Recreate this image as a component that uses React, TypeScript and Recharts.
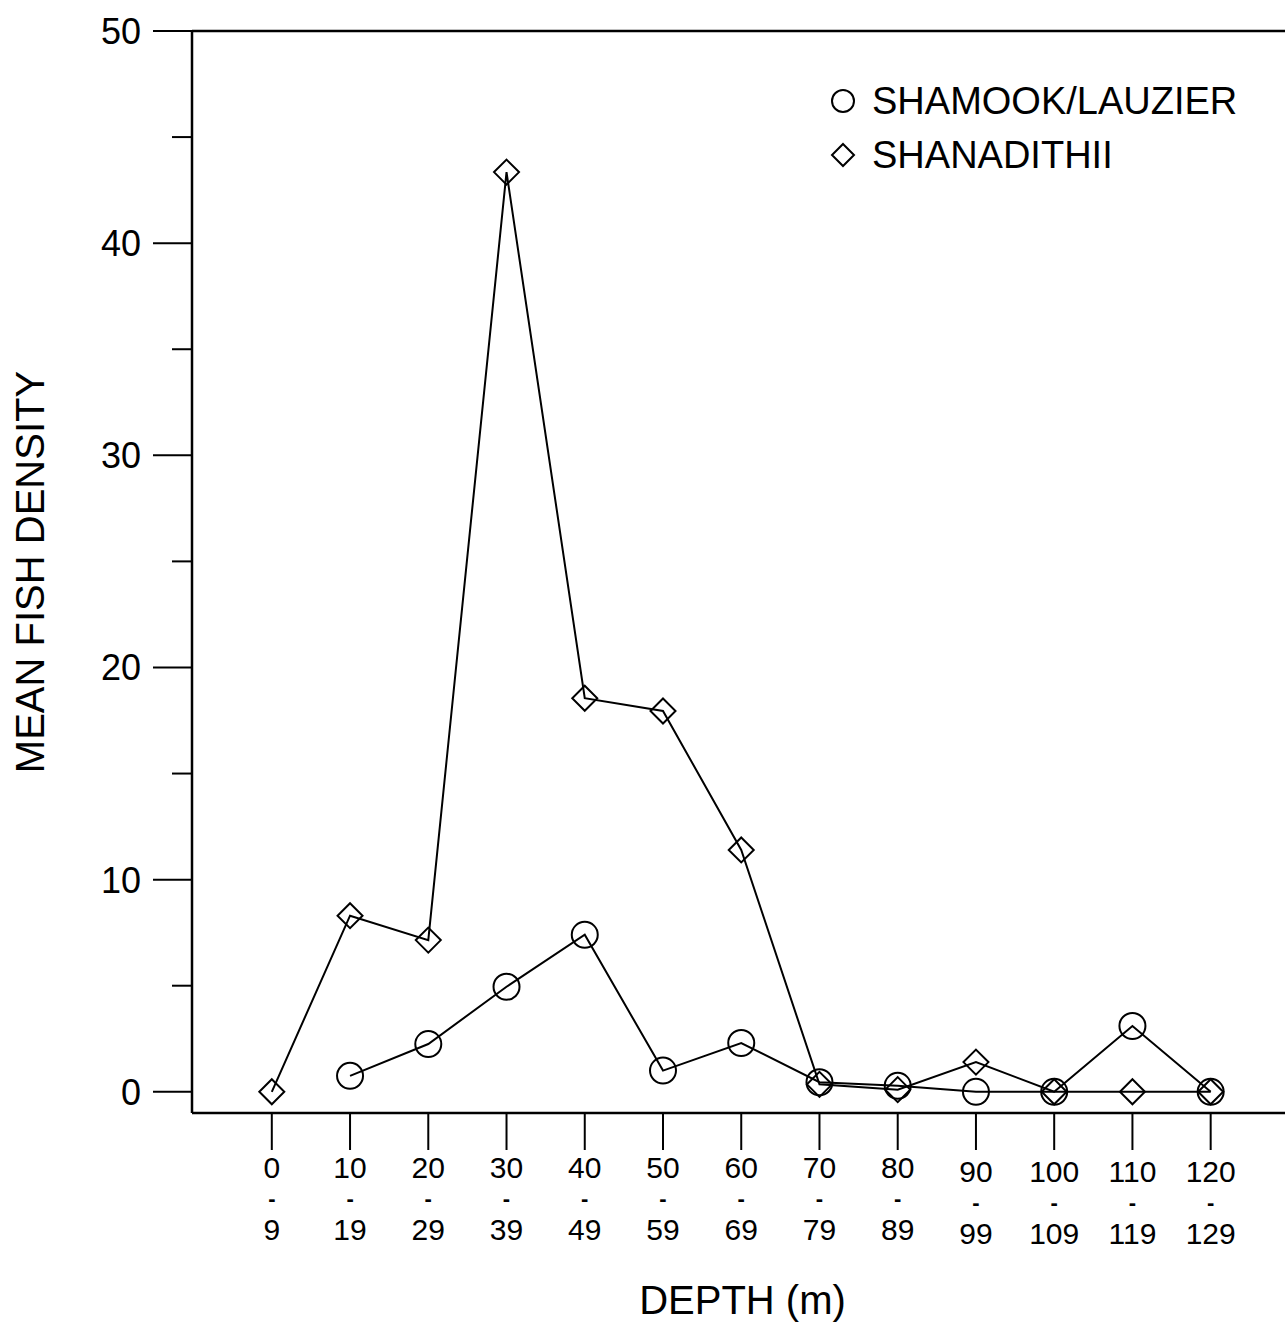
import { LineChart, Line, XAxis, YAxis, ReferenceLine, Legend } from "recharts";

// depth classes (m), lower and upper bound
const depthLow = ["0", "10", "20", "30", "40", "50", "60", "70", "80", "90", "100", "110", "120"];
const depthHigh = ["9", "19", "29", "39", "49", "59", "69", "79", "89", "99", "109", "119", "129"];

// mean fish density per depth class
const shamookLauzier = [null, 0.75, 2.25, 4.95, 7.4, 1.0, 2.3, 0.45, 0.28, 0.0, 0.0, 3.1, 0.0];
const shanadithii = [0.0, 8.3, 7.15, 43.35, 18.55, 17.95, 11.4, 0.35, 0.1, 1.4, 0.0, 0.0, 0.0];

const yTicks = [0, 5, 10, 15, 20, 25, 30, 35, 40, 45, 50];

const rows = depthLow.map((lo, i) => ({
  idx: i,
  lo,
  hi: depthHigh[i],
  shamook: shamookLauzier[i],
  shanadithii: shanadithii[i],
}));

const FONT = "'Liberation Sans', Arial, sans-serif";

function CircleDot(props: any) {
  const { cx, cy, value } = props;
  if (value == null || cx == null || cy == null) return null;
  return <circle cx={cx} cy={cy} r={13} fill="none" stroke="#000" strokeWidth={2} />;
}

function DiamondDot(props: any) {
  const { cx, cy, value } = props;
  if (value == null || cx == null || cy == null) return null;
  const s = 12.5;
  return (
    <path
      d={`M${cx},${cy - s} L${cx + s},${cy} L${cx},${cy + s} L${cx - s},${cy} Z`}
      fill="none"
      stroke="#000"
      strokeWidth={2}
    />
  );
}

function DepthTick(props: any) {
  const { x, y, payload } = props;
  const i = payload.value as number;
  const row = rows[i];
  if (!row) return null;
  // the deeper classes sit a few pixels lower
  const shift = i >= 9 ? 4 : 0;
  const common = { x, textAnchor: "middle" as const, fontFamily: FONT, fill: "#000" };
  return (
    <g>
      <line x1={x} y1={y} x2={x} y2={y + 37} stroke="#000" strokeWidth={2} />
      <text {...common} y={y + 65 + shift} fontSize={30}>
        {row.lo}
      </text>
      <text {...common} y={y + 93 + shift} fontSize={22} fontWeight="bold">
        -
      </text>
      <text {...common} y={y + 127 + shift} fontSize={30}>
        {row.hi}
      </text>
    </g>
  );
}

function DensityTick(props: any) {
  const { x, y, payload } = props;
  const v = payload.value as number;
  const major = v % 10 === 0;
  return (
    <g>
      <line x1={x - (major ? 39 : 20)} y1={y} x2={x} y2={y} stroke="#000" strokeWidth={2} />
      {major && (
        <text x={x - 51} y={y + 13} textAnchor="end" fontFamily={FONT} fontSize={36} fill="#000">
          {v}
        </text>
      )}
    </g>
  );
}

function SeriesKey() {
  const items = [
    { name: "SHAMOOK/LAUZIER", dot: <circle cx={15} cy={15} r={11} fill="none" stroke="#000" strokeWidth={2} /> },
    { name: "SHANADITHII", dot: <path d="M15,4 L26,15 L15,26 L4,15 Z" fill="none" stroke="#000" strokeWidth={2} /> },
  ];
  return (
    <div style={{ fontFamily: FONT, fontSize: 38, color: "#000", textAlign: "left" }}>
      {items.map((it) => (
        <div key={it.name} style={{ display: "flex", alignItems: "center", height: 54 }}>
          <svg width={30} height={30} style={{ marginRight: 14 }}>
            {it.dot}
          </svg>
          <span>{it.name}</span>
        </div>
      ))}
    </div>
  );
}

export default function App() {
  return (
    <div style={{ position: "absolute", left: 0, top: 0, background: "#fff" }}>
      <LineChart
        width={1285}
        height={1324}
        data={rows}
        margin={{ top: 31, right: 0, bottom: 0, left: 0 }}
      >
        <XAxis
          dataKey="idx"
          type="number"
          domain={[-1.02, 12.95]}
          ticks={rows.map((r) => r.idx)}
          allowDataOverflow
          height={211}
          axisLine={{ stroke: "#000", strokeWidth: 2.5 }}
          tickLine={false}
          tickSize={0}
          tickMargin={0}
          tick={<DepthTick />}
          interval={0}
          label={{
            content: (p: any) => {
              const vb = p.viewBox;
              return (
                <text
                  x={vb.x + vb.width / 2 + 4}
                  y={vb.y + 201}
                  textAnchor="middle"
                  fontFamily={FONT}
                  fontSize={40}
                  fill="#000"
                >
                  DEPTH (m)
                </text>
              );
            },
          }}
        />
        <YAxis
          type="number"
          domain={[-1, 50]}
          ticks={yTicks}
          allowDataOverflow
          width={192}
          axisLine={{ stroke: "#000", strokeWidth: 2.5 }}
          tickLine={false}
          tickSize={0}
          tickMargin={0}
          tick={<DensityTick />}
          interval={0}
          label={{
            content: (p: any) => {
              const vb = p.viewBox;
              const cx = vb.x + 30;
              const cy = vb.y + vb.height / 2;
              return (
                <text
                  x={cx}
                  y={cy}
                  transform={`rotate(-90 ${cx} ${cy})`}
                  textAnchor="middle"
                  dominantBaseline="central"
                  fontFamily={FONT}
                  fontSize={40}
                  fill="#000"
                >
                  MEAN FISH DENSITY
                </text>
              );
            },
          }}
        />
        <ReferenceLine y={50} stroke="#000" strokeWidth={2.5} ifOverflow="visible" />
        <Legend
          layout="vertical"
          verticalAlign="middle"
          align="center"
          content={<SeriesKey />}
          wrapperStyle={{ position: "absolute", top: 74, left: 828, width: 457, height: 110 }}
        />
        <Line
          dataKey="shamook"
          name="SHAMOOK/LAUZIER"
          stroke="#000"
          strokeWidth={2}
          dot={<CircleDot />}
          activeDot={false}
          isAnimationActive={false}
        />
        <Line
          dataKey="shanadithii"
          name="SHANADITHII"
          stroke="#000"
          strokeWidth={2}
          dot={<DiamondDot />}
          activeDot={false}
          isAnimationActive={false}
        />
      </LineChart>
    </div>
  );
}
